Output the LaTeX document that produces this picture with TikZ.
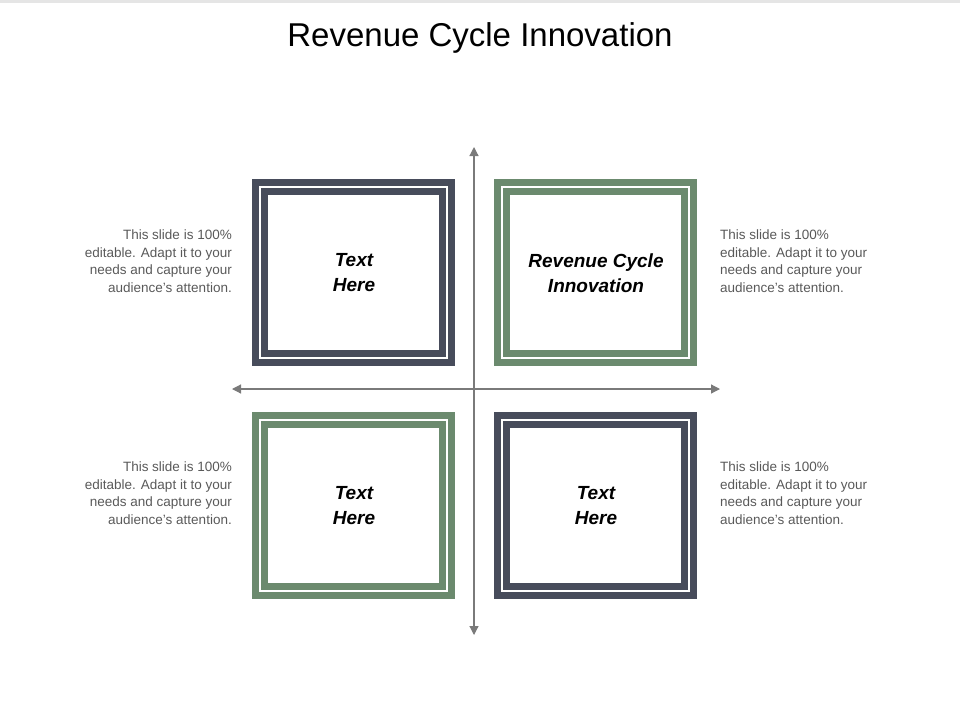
\documentclass[tikz,border=0pt]{standalone}
\usepackage{fontspec}
\setmainfont{Liberation Sans}
\usetikzlibrary{arrows.meta}
\definecolor{dk}{HTML}{474C5B}
\definecolor{gr}{HTML}{6B8A6E}
\definecolor{tx}{HTML}{595959}
\begin{document}
\begin{tikzpicture}[x=1pt,y=-1pt,
  ax/.style={draw=tx!80,line width=1.2pt,-{Triangle[length=9pt,width=9pt]}},
  lbl/.style={font=\fontsize{19}{25}\selectfont\bfseries\itshape,align=center},
  side/.style={font=\fontsize{13.5}{17.5}\selectfont,text=tx,inner sep=0pt}]
\useasboundingbox (0,0) rectangle (960,720);
\fill[gray!20] (0,0) rectangle (960,3);
\node (title) at (480,38) {\fontsize{33}{38}\selectfont Revenue Cycle Innovation};
\newcommand{\frm}[4]{%
  \draw[#3,line width=7pt] (#1+3.5,#2+3.5) rectangle (#1+203-3.5,#2+187-3.5);
  \draw[#3,line width=7pt] (#1+12.5,#2+12.5) rectangle (#1+203-12.5,#2+187-12.5);
  \node[lbl] (#4) at (#1+102,#2+94) {};}
\frm{252}{179}{dk}{a}
\frm{494}{179}{gr}{b}
\frm{252}{412}{gr}{c}
\frm{494}{412}{dk}{d}
\node[lbl] at (a) {Text\\Here};
\node[lbl] at (b) {Revenue Cycle\\Innovation};
\node[lbl] at (c) {Text\\Here};
\node[lbl] at (d) {Text\\Here};
\coordinate (c0) at (474,389);
\coordinate (up) at (474,147);
\coordinate (dn) at (474,635);
\coordinate (lf) at (232,389);
\coordinate (rt) at (720,389);
\draw[ax] (c0) -- (up);
\draw[ax] (c0) -- (dn);
\draw[ax] (c0) -- (lf);
\draw[ax] (c0) -- (rt);
\node[side,align=right,anchor=north east] (t1) at (232,230) {This slide is 100\%\\editable. Adapt it to your\\needs and capture your\\audience's attention.};
\node[side,align=left,anchor=north west] (t2) at (720,230) {This slide is 100\%\\editable. Adapt it to your\\needs and capture your\\audience's attention.};
\node[side,align=right,anchor=north east] (t3) at (232,462) {This slide is 100\%\\editable. Adapt it to your\\needs and capture your\\audience's attention.};
\node[side,align=left,anchor=north west] (t4) at (720,462) {This slide is 100\%\\editable. Adapt it to your\\needs and capture your\\audience's attention.};
\end{tikzpicture}
\end{document}
